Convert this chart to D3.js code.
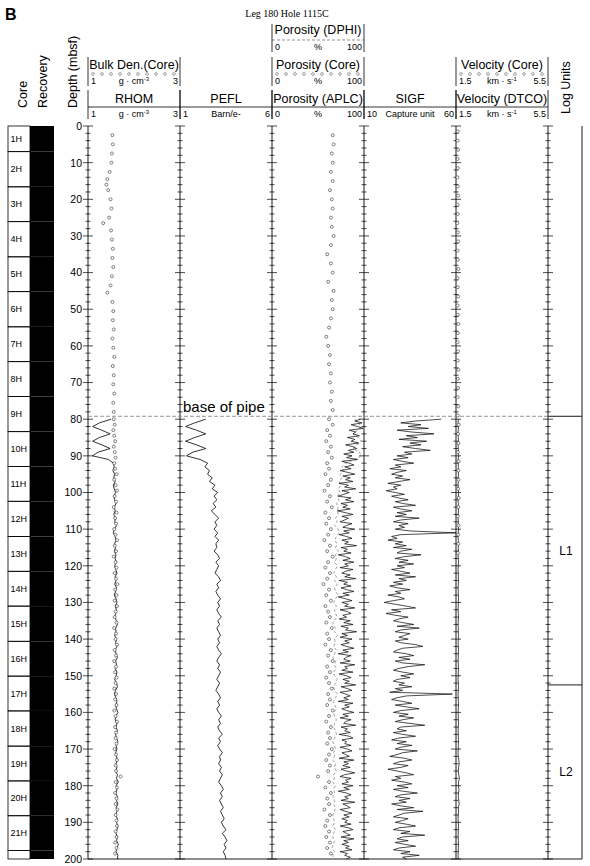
<!DOCTYPE html>
<html>
<head>
<meta charset="utf-8">
<title>Leg 180 Hole 1115C</title>
<script src="https://d3js.org/d3.v7.min.js"></script>
<style>
body { margin: 0; background: #fff; }
text { font-family: "Liberation Sans", Arial, Helvetica, sans-serif; fill: #000; }
</style>
</head>
<body>
<div id="chart"></div>
<script>
// ---- data ----
// cores: name and top depth (mbsf)
let coreNames = ["1H","2H","3H","4H","5H","6H","7H","8H","9H","10H","11H","12H","13H","14H","15H","16H","17H","18H","19H","20H","21H",""];
let coreTops = [0,7.0,16.6,26.1,35.7,45.2,54.8,64.3,73.8,83.4,92.9,102.4,112.0,121.5,131.0,140.6,150.1,159.6,169.2,178.7,188.2,197.7];

// logs start at logTop (80 mbsf); slow logs every 1 m, noisy logs every 0.5 m
let logTop = 80;
let rhom = [1.50,1.25,1.10,1.30,1.48,1.25,1.10,1.30,1.48,1.22,1.10,1.45,
  1.55,1.57,1.54,1.58,1.56,1.59,1.55,1.57,1.60,1.56,1.58,1.61,1.57,1.59,1.56,1.60,1.58,1.62,
  1.57,1.55,1.59,1.61,1.58,1.60,1.57,1.61,1.59,1.62,1.58,1.60,1.63,1.59,1.61,1.58,1.62,1.60,
  1.57,1.61,1.63,1.59,1.62,1.60,1.58,1.62,1.64,1.60,1.61,1.58,1.62,1.60,1.63,1.59,1.61,1.64,
  1.60,1.62,1.59,1.63,1.61,1.58,1.62,1.64,1.60,1.57,1.61,1.63,1.60,1.62,1.65,1.61,1.59,1.63,
  1.61,1.64,1.60,1.62,1.65,1.61,1.63,1.60,1.62,1.64,1.61,1.63,1.60,1.64,1.62,1.66,1.61,1.63,
  1.60,1.64,1.62,1.65,1.61,1.63,1.60,1.64,1.62,1.65,1.63,1.61,1.64,1.62,1.66,1.63,1.61,1.65,1.64];
let pefl = [2.4,1.8,1.3,1.9,2.4,1.8,1.3,1.9,2.4,1.7,1.35,2.1,
  2.5,2.35,2.6,2.5,2.75,2.6,2.9,2.75,3.05,2.85,3.0,2.8,2.95,2.7,2.9,3.1,2.9,3.0,
  2.85,3.05,2.9,3.1,2.95,3.0,2.85,3.05,3.15,2.95,3.1,3.0,2.9,3.1,3.2,3.0,3.1,2.95,
  3.05,3.2,3.05,3.15,3.0,3.1,3.25,3.05,3.15,3.0,3.1,3.2,3.05,3.15,3.0,3.1,3.25,3.1,
  3.0,3.15,3.05,3.2,3.1,3.0,3.15,3.05,2.95,3.1,3.2,3.05,3.15,3.0,3.1,3.25,3.1,3.2,
  3.05,3.15,3.3,3.1,3.2,3.05,3.15,3.3,3.15,3.2,3.1,3.25,3.15,3.3,3.2,3.1,3.25,3.35,
  3.2,3.3,3.15,3.25,3.35,3.2,3.3,3.4,3.25,3.35,3.5,3.3,3.45,3.55,3.4,3.5,3.35,3.45,3.5];
let dphi = [90,94,97,93,88,94,97,92,88,95,97,90,80,76,78,74,76,73,75,72,
  74,71,73,70,72,71,72,69,71,68,72,73,70,68,71,69,72,69,70,68,
  71,69,67,70,68,71,68,69,72,69,67,70,68,69,71,67,66,69,68,71,
  68,69,67,70,68,66,69,68,70,67,68,71,69,67,68,71,69,67,68,70,
  67,68,70,68,67,69,70,68,66,68,69,67,68,66,69,68,70,67,68,66,
  69,67,68,66,68,67,69,68,66,67,68,66,69,67,66,68,67,65,68,66,67];
let dtco = [1.60,1.59,1.61,1.60,1.58,1.60,1.61,1.59,1.60,1.60,1.61,1.59,1.60,1.60,1.59,1.61,1.60,1.60,1.59,1.60,
  1.61,1.60,1.59,1.60,1.60,1.61,1.60,1.59,1.60,1.60,1.61,1.60,1.59,1.60,1.61,1.60,1.60,1.59,1.60,1.61,
  1.60,1.59,1.60,1.60,1.61,1.60,1.59,1.60,1.60,1.61,1.60,1.60,1.59,1.60,1.61,1.60,1.59,1.60,1.60,1.61,
  1.60,1.59,1.60,1.61,1.60,1.60,1.59,1.60,1.61,1.60,1.60,1.59,1.60,1.61,1.60,1.59,1.60,1.60,1.61,1.60,
  1.59,1.60,1.60,1.61,1.60,1.59,1.60,1.60,1.61,1.60,1.60,1.59,1.60,1.62,1.64,1.61,1.60,1.62,1.65,1.61,
  1.60,1.63,1.61,1.60,1.62,1.64,1.60,1.61,1.60,1.59,1.60,1.61,1.60,1.60,1.59,1.60,1.61,1.60,1.60,1.59,1.60];
// every 0.5 m
let aplc = [96,90,98,86,93,99,84,91,88,95,82,90,86,94,80,88,92,83,89,78,
  87,81,93,76,84,89,79,86,74,82,90,77,85,80,88,73,83,79,91,76,
  84,78,72,86,80,89,75,82,77,85,71,80,88,76,83,79,74,87,81,77,
  90,78,84,73,81,87,76,83,79,92,75,82,78,86,72,80,85,77,89,79,
  83,74,88,80,76,85,79,91,73,82,78,86,75,81,89,77,84,72,80,87,
  76,83,79,90,74,82,86,77,81,73,85,78,88,75,83,80,92,76,82,74,
  87,79,84,75,81,89,77,83,72,86,80,78,85,74,90,79,82,76,88,73,
  81,86,77,84,79,91,75,82,87,74,80,85,78,83,72,88,79,84,76,81,
  89,77,83,74,86,80,78,91,75,82,79,85,73,84,88,76,81,79,86,74,
  82,87,76,80,84,73,89,78,83,77,85,75,81,90,79,74,86,80,83,76,
  88,78,84,72,81,86,79,83,75,90,77,82,85,74,80,87,78,84,76,82,
  79,86,74,83,88,77,81,85,75,89,78,83,76,84,80,87,74,82,79,85,81];
let sigf = [52,38,30,41,34,45,28,36,48,33,39,29,44,35,41,31,38,46,32,36,
  28,34,26,31,37,27,30,24,33,28,25,31,27,35,29,23,30,26,28,22,
  27,32,25,29,34,27,31,38,26,30,36,28,33,27,40,30,26,34,29,32,
  27,35,62,30,25,28,23,31,27,33,26,36,30,28,41,32,27,34,29,37,
  28,32,25,30,35,27,38,29,33,26,31,24,28,35,27,30,23,29,32,26,
  21,27,33,38,25,30,22,27,34,29,26,31,37,28,40,30,27,35,32,29,
  34,27,30,38,42,31,28,26,33,37,29,35,27,31,43,34,29,26,31,37,
  30,35,28,26,32,29,36,27,31,24,58,33,28,25,31,36,27,33,40,30,
  26,34,29,37,31,27,35,43,30,28,33,26,31,38,29,25,33,28,36,30,
  27,39,31,28,24,32,36,29,26,34,30,23,28,33,37,27,30,25,32,36,
  28,34,26,31,39,30,27,35,29,33,25,30,37,28,42,32,29,26,34,31,
  27,33,38,29,26,35,30,43,31,28,34,27,32,38,29,26,35,30,40,31,33];

// core measurements [depth, value]
let coreDen = [[2.5,1.53],[5,1.54],[7.5,1.52],[10,1.51],[12.5,1.47],[14.5,1.42],[16,1.40],[17.5,1.44],[20,1.49],
  [22.5,1.51],[25,1.46],[26.5,1.33],[28.5,1.50],[31,1.52],[33.5,1.54],[36,1.53],[38.5,1.55],[41,1.52],[43.5,1.49],
  [45.5,1.42],[48,1.53],[50.5,1.55],[53,1.54],[55.5,1.56],[58,1.53],[60.5,1.55],[63,1.57],[65.5,1.54],[68,1.56],
  [70.5,1.55],[73,1.57],[75.5,1.55],[78,1.56],
  [80,1.56],[81.5,1.58],[83,1.55],[84.5,1.57],[86,1.59],[87.5,1.56],[89,1.58],[90.5,1.60],[92,1.57],[93.5,1.59],
  [95,1.62],[96.5,1.57],[98,1.60],[99.5,1.63],[101,1.58],[102.5,1.61],[104,1.56],[105.5,1.62],[107,1.59],[108.5,1.61],
  [110,1.57],[111.5,1.60],[113,1.63],[114.5,1.58],[116,1.61],[117.5,1.56],[119,1.60],[120.5,1.62],[122,1.58],[123.5,1.61],
  [125,1.64],[126.5,1.59],[128,1.62],[129.5,1.58],[131,1.63],[132.5,1.60],[134,1.58],[135.5,1.62],[137,1.57],[138.5,1.61],
  [140,1.60],[141.5,1.63],[143,1.58],[144.5,1.61],[146,1.57],[147.5,1.61],[149,1.59],[150.5,1.62],[152,1.60],[153.5,1.57],
  [155,1.61],[156.5,1.59],[158,1.62],[159.5,1.57],[161,1.60],[162.5,1.63],[164,1.59],[165.5,1.61],[167,1.60],[168.5,1.62],
  [170,1.58],[171.5,1.61],[173,1.63],[174.5,1.60],[176,1.61],[177.5,1.71],[179,1.60],[180.5,1.63],[182,1.59],[183.5,1.62],
  [185,1.60],[186.5,1.64],[188,1.60],[189.5,1.62],[191,1.63],[192.5,1.60],[194,1.62],[195.5,1.59],[197,1.62],[198.5,1.59]];
let corePor = [[2.5,66],[5,67],[7.5,65],[10,66],[12.5,64],[15,66],[17.5,63],[20,65],[22.5,66],[25,64],[27.5,65],
  [30,67],[32.5,64],[35,60],[37.5,64],[40,66],[42.5,61],[45,67],[47.5,65],[50,66],[52.5,64],[55,62],[57.5,59],
  [60,61],[62.5,63],[65,62],[67.5,64],[70,63],[72.5,65],[75,64],[77.5,66],
  [80,62],[81.5,66],[83,60],[84.5,63],[86,59],[87.5,64],[89,61],[90.5,65],[92,60],[93.5,62],[95,58],[96.5,64],
  [98,61],[99.5,57],[101,63],[102.5,60],[104,65],[105.5,58],[107,62],[108.5,59],[110,64],[111.5,61],[113,57],
  [114.5,63],[116,60],[117.5,66],[119,61],[120.5,58],[122,63],[123.5,60],[125,56],[126.5,62],[128,59],[129.5,64],
  [131,58],[132.5,61],[134,63],[135.5,59],[137,65],[138.5,60],[140,62],[141.5,58],[143,64],[144.5,61],[146,66],
  [147.5,60],[149,63],[150.5,59],[152,62],[153.5,65],[155,61],[156.5,63],[158,60],[159.5,66],[161,62],[162.5,59],
  [164,64],[165.5,61],[167,63],[168.5,60],[170,65],[171.5,62],[173,59],[174.5,63],[176,61],[177.5,50],[179,62],
  [180.5,58],[182,64],[183.5,60],[185,62],[186.5,57],[188,63],[189.5,60],[191,58],[192.5,62],[194,59],[195.5,63],
  [197,60],[198.5,64]];
let coreVel = [[1.5,1.58],[4,1.57],[6.5,1.59],[9,1.57],[11.5,1.58],[14,1.56],[16.5,1.58],[19,1.59],[21.5,1.57],
  [24,1.58],[26.5,1.56],[29,1.58],[31.5,1.59],[34,1.57],[36.5,1.58],[39,1.60],[41.5,1.57],[44,1.58],[46.5,1.59],
  [49,1.57],[51.5,1.58],[54,1.60],[56.5,1.58],[59,1.57],[61.5,1.59],[64,1.58],[66.5,1.60],[69,1.58],[71.5,1.59],
  [74,1.57],[76.5,1.60],[79,1.58],[81.5,1.62],[84,1.59],[86.5,1.61],[89,1.58],[91.5,1.62],[94,1.60],[96.5,1.61],
  [99,1.59],[101.5,1.62],[104,1.60],[106.5,1.58],[109,1.61],[111.5,1.59],[114,1.60],[116.5,1.58]];

// header captions
let row3 = [
  {x0: 88, x1: 180, name: "RHOM", lo: "1", hi: "3", unit: "g · cm", sup: "-3"},
  {x0: 180, x1: 272, name: "PEFL", lo: "1", hi: "6", unit: "Barn/e-", sup: ""},
  {x0: 272, x1: 364, name: "Porosity (APLC)", lo: "0", hi: "100", unit: "%", sup: ""},
  {x0: 364, x1: 456, name: "SIGF", lo: "10", hi: "60", unit: "Capture unit", sup: ""},
  {x0: 456, x1: 548, name: "Velocity (DTCO)", lo: "1.5", hi: "5.5", unit: "km · s", sup: "-1"}
];
let row2 = [
  {x0: 88, x1: 180, name: "Bulk Den.(Core)", lo: "1", hi: "3", unit: "g · cm", sup: "-3"},
  {x0: 272, x1: 364, name: "Porosity (Core)", lo: "0", hi: "100", unit: "%", sup: ""},
  {x0: 456, x1: 548, name: "Velocity (Core)", lo: "1.5", hi: "5.5", unit: "km · s", sup: "-1"}
];
let row1 = [
  {x0: 272, x1: 364, name: "Porosity (DPHI)", lo: "0", hi: "100", unit: "%", sup: ""}
];
let pipeDepth = 79.2;
let unitTops = [79.2, 152.5, 200];
let unitNames = ["L1", "L2"];

// ---- layout ----
let bounds = [88, 180, 272, 364, 456, 548];
let svg = d3.select("#chart").append("svg")
    .attr("width", 590).attr("height", 866)
    .style("background-color", "#fff");

let y = d3.scaleLinear().domain([0, 200]).range([126, 859]);
let xDen = d3.scaleLinear().domain([1, 3]).range([88, 180]);
let xPe = d3.scaleLinear().domain([1, 6]).range([180, 272]);
let xPor = d3.scaleLinear().domain([0, 100]).range([272, 364]);
let xSig = d3.scaleLinear().domain([10, 60]).range([364, 456]).clamp(true);
let xVel = d3.scaleLinear().domain([1.5, 5.5]).range([456, 548]);

function pairs(vals, step) { return vals.map((v, i) => [logTop + i * step, v]); }

// title
svg.append("text").attr("x", 5).attr("y", 20)
    .style("font-weight", "bold").style("font-size", "16px").text("B");
svg.append("text").attr("x", 287).attr("y", 17)
    .style("font-family", "'Liberation Serif', 'Times New Roman', serif")
    .style("font-size", "10px").attr("text-anchor", "middle").text("Leg 180 Hole 1115C");

// rotated column titles
function vlabel(x, yb, txt) {
  svg.append("text").attr("transform", "translate(" + x + "," + yb + ") rotate(-90)")
      .style("font-size", "12.5px").text(txt);
}
vlabel(27, 108, "Core");
vlabel(47, 108, "Recovery");
vlabel(77, 108, "Depth (mbsf)");
vlabel(570, 114, "Log Units");

// header rows
function headerRow(items, top, base, lineY, scaleY, bottom, kind) {
  items.forEach(function(d) {
    let g = svg.append("g");
    g.append("text").attr("x", (d.x0 + d.x1) / 2).attr("y", base)
        .attr("text-anchor", "middle").style("font-size", "12.5px").text(d.name);
    if (kind == "line") {
      g.append("line").attr("x1", d.x0).attr("x2", d.x1).attr("y1", lineY).attr("y2", lineY)
          .attr("stroke", "#000").attr("stroke-width", 0.8);
    } else if (kind == "dash") {
      g.append("line").attr("x1", d.x0).attr("x2", d.x1).attr("y1", lineY).attr("y2", lineY)
          .attr("stroke", "#777").attr("stroke-width", 0.8).attr("stroke-dasharray", "3,2");
    } else {
      g.selectAll("circle").data(d3.range(d.x0 + 5, d.x1 - 3, 9)).enter().append("circle")
          .attr("cx", c => c).attr("cy", lineY).attr("r", 1.4)
          .attr("fill", "none").attr("stroke", "#666").attr("stroke-width", 0.6);
    }
    g.append("text").attr("x", d.x0 + 3).attr("y", scaleY).style("font-size", "9px").text(d.lo);
    g.append("text").attr("x", d.x1 - 2).attr("y", scaleY).attr("text-anchor", "end")
        .style("font-size", "9px").text(d.hi);
    let u = g.append("text").attr("x", (d.x0 + d.x1) / 2).attr("y", scaleY)
        .attr("text-anchor", "middle").style("font-size", "9px");
    u.append("tspan").text(d.unit);
    if (d.sup) u.append("tspan").attr("dy", -3).style("font-size", "6px").text(d.sup);
    [d.x0, d.x1].forEach(function(x) {
      g.append("line").attr("x1", x).attr("x2", x).attr("y1", top).attr("y2", bottom)
          .attr("stroke", "#000").attr("stroke-width", 0.8);
    });
  });
}
headerRow(row1, 24, 34, 40, 50, 52, "dash");
headerRow(row2, 57, 69, 74, 84, 86, "circle");
headerRow(row3, 90, 103, 107, 117, 119, "line");

// core column and recovery
let cores = coreNames.map((n, i) => ({name: n, top: coreTops[i], bot: i < coreTops.length - 1 ? coreTops[i + 1] : 200}));
svg.selectAll("rect.core").data(cores).enter().append("rect").attr("class", "core")
    .attr("x", 8).attr("width", 22)
    .attr("y", d => y(d.top)).attr("height", d => y(d.bot) - y(d.top))
    .attr("fill", "none").attr("stroke", "#000").attr("stroke-width", 0.8);
svg.selectAll("rect.rec").data(cores).enter().append("rect").attr("class", "rec")
    .attr("x", 30).attr("width", 24)
    .attr("y", d => y(d.top)).attr("height", d => y(d.bot) - y(d.top))
    .attr("fill", "#000");
svg.selectAll("text.core").data(cores).enter().append("text").attr("class", "core")
    .attr("x", 10.5).attr("y", d => (y(d.top) + y(d.bot)) / 2).attr("dy", "0.35em")
    .style("font-size", "9px").text(d => d.name);

// depth axis labels
let depthAxis = d3.axisLeft(y).tickValues(d3.range(0, 201, 10)).tickSize(0).tickPadding(6);
let ax = svg.append("g").attr("transform", "translate(88,0)").call(depthAxis);
ax.select(".domain").remove();
ax.selectAll("text").style("font-size", "10.5px")
    .style("font-family", "'Liberation Sans', Arial, sans-serif");

// track frame, ticks on every boundary
bounds.forEach(function(b) {
  svg.append("line").attr("x1", b).attr("x2", b).attr("y1", y(0)).attr("y2", y(200))
      .attr("stroke", "#000").attr("stroke-width", 0.9);
  svg.selectAll(null).data(d3.range(0, 201, 2)).enter().append("line")
      .attr("x1", d => b - (d % 10 == 0 ? 5 : 2.5)).attr("x2", d => b + (d % 10 == 0 ? 5 : 2.5))
      .attr("y1", d => y(d)).attr("y2", d => y(d))
      .attr("stroke", "#000").attr("stroke-width", 0.7);
});
svg.append("line").attr("x1", 582).attr("x2", 582).attr("y1", y(0)).attr("y2", y(200))
    .attr("stroke", "#000").attr("stroke-width", 0.9);
svg.append("line").attr("x1", 88).attr("x2", 582).attr("y1", y(200)).attr("y2", y(200))
    .attr("stroke", "#000").attr("stroke-width", 0.9);

// log units
svg.selectAll("line.unit").data(unitTops.slice(0, 2)).enter().append("line").attr("class", "unit")
    .attr("x1", 548).attr("x2", 582).attr("y1", d => y(d)).attr("y2", d => y(d))
    .attr("stroke", "#000").attr("stroke-width", 0.9);
svg.selectAll("text.unit").data(unitNames).enter().append("text").attr("class", "unit")
    .attr("x", 566).attr("y", (d, i) => (y(unitTops[i]) + y(unitTops[i + 1])) / 2).attr("dy", "0.35em")
    .attr("text-anchor", "middle").style("font-size", "12px").text(d => d);

// base of pipe
svg.append("line").attr("x1", 88).attr("x2", 548).attr("y1", y(pipeDepth)).attr("y2", y(pipeDepth))
    .attr("stroke", "#888").attr("stroke-width", 0.9).attr("stroke-dasharray", "4,2");
svg.append("text").attr("x", 183).attr("y", y(pipeDepth) - 4)
    .style("font-size", "15px").text("base of pipe");

// curves
function curve(data, xs, color, dash, w) {
  svg.append("path").datum(data)
      .attr("d", d3.line().x(d => xs(d[1])).y(d => y(d[0])))
      .attr("fill", "none").attr("stroke", color).attr("stroke-width", w || 0.8)
      .attr("stroke-dasharray", dash || null);
}
function dots(data, xs) {
  svg.append("g").selectAll("circle").data(data).enter().append("circle")
      .attr("cx", d => xs(d[1])).attr("cy", d => y(d[0])).attr("r", 1.5)
      .attr("fill", "#fff").attr("stroke", "#333").attr("stroke-width", 0.6);
}
curve(pairs(rhom, 1), xDen, "#000");
curve(pairs(pefl, 1), xPe, "#000");
curve(pairs(dphi, 1), xPor, "#888", "3,2");
curve(pairs(aplc, 0.5), xPor, "#000", null, 0.7);
curve(pairs(sigf, 0.5), xSig, "#000", null, 0.7);
curve(pairs(dtco, 1), xVel, "#000", null, 0.7);
dots(coreDen, xDen);
dots(corePor, xPor);
dots(coreVel, xVel);
</script>
</body>
</html>
